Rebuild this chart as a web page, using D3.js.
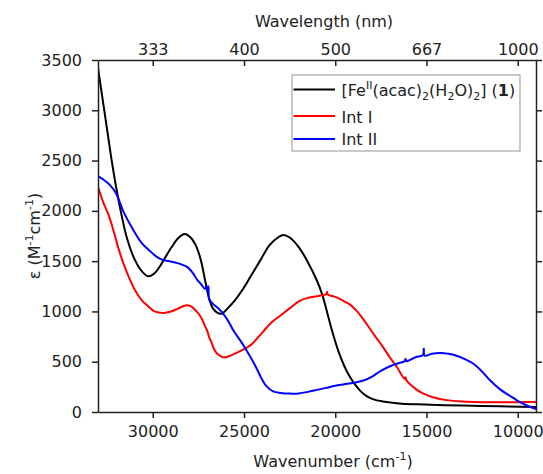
<!DOCTYPE html>
<html>
<head>
<meta charset="utf-8">
<script src="https://cdn.jsdelivr.net/npm/d3@7"></script>
<style>
  body { margin: 0; background: #fff; }
  text { font-family: "DejaVu Sans", sans-serif; font-size: 16px; fill: #222; }
  .axis path, .axis line { stroke: #222; stroke-width: 1.5px; }
  .axis text { font-size: 16px; }
</style>
</head>
<body>
<div id="chart"></div>
<script>
// Black: [Fe(II)(acac)2(H2O)2] (1)
var blackWn = [33000, 32600, 32300, 32000, 31700, 31400, 31000, 30600, 30250, 29900, 29500, 29000, 28600, 28250, 27900, 27600, 27350, 27100, 26900, 26700, 26450, 26200, 25900, 25500, 25100, 24600, 24100, 23600, 23100, 22850, 22500, 22000, 21500, 21000, 20700, 20400, 20100, 19800, 19500, 19200, 18900, 18600, 18300, 17900, 17400, 16500, 15500, 14000, 12000, 10500, 9000]
var blackEps = [3420, 2930, 2560, 2230, 1950, 1720, 1520, 1400, 1350, 1380, 1480, 1630, 1730, 1770, 1730, 1640, 1500, 1280, 1120, 1030, 985, 980, 1030, 1110, 1210, 1360, 1510, 1660, 1740, 1760, 1735, 1640, 1490, 1305, 1160, 960, 760, 590, 455, 350, 270, 205, 160, 125, 105, 85, 76, 68, 60, 55, 50]

// Red: Int I
var redWn = [33000, 32700, 32400, 32100, 31800, 31400, 31000, 30600, 30300, 29900, 29400, 29000, 28600, 28200, 27900, 27600, 27350, 27150, 27000, 26900, 26800, 26600, 26400, 26150, 25900, 25500, 25000, 24600, 24000, 23500, 23000, 22500, 22000, 21500, 21000, 20700, 20500, 20450, 20400, 20000, 19600, 19200, 18800, 18300, 17800, 17400, 17000, 16600, 16200, 16150, 16100, 15600, 15200, 14600, 13900, 13000, 12000, 11000, 10000, 9000]
var redEps = [2240, 2080, 1950, 1770, 1580, 1380, 1220, 1110, 1060, 1000, 985, 1000, 1030, 1060, 1050, 1000, 940, 860, 800, 740, 700, 610, 570, 545, 550, 580, 625, 670, 790, 890, 960, 1030, 1100, 1135, 1150, 1160, 1170, 1195, 1165, 1145, 1110, 1070, 1000, 880, 750, 650, 540, 440, 330, 345, 315, 230, 185, 145, 118, 104, 98, 97, 98, 100]

// Blue: Int II
var blueWn = [33000, 32700, 32340, 32000, 31600, 31066, 30600, 30150, 29800, 29500, 29000, 28700, 28400, 28100, 27800, 27590, 27350, 27140, 27050, 27000, 26950, 26900, 26700, 26400, 26130, 25850, 25580, 25200, 24850, 24500, 24300, 24000, 23760, 23400, 23000, 22500, 22000, 21500, 21000, 20500, 20000, 19500, 19000, 18500, 18000, 17500, 17000, 16450, 16200, 16150, 16100, 15600, 15200, 15150, 15100, 14700, 14260, 13800, 13350, 12900, 12430, 12000, 11520, 11000, 10600, 10200, 9900, 9500, 9000]
var blueEps = [2345, 2310, 2256, 2170, 1990, 1810, 1680, 1600, 1545, 1515, 1495, 1483, 1465, 1440, 1380, 1320, 1270, 1225, 1250, 1200, 1250, 1120, 1075, 1030, 975, 900, 810, 710, 610, 500, 430, 320, 255, 205, 190, 183, 185, 200, 220, 240, 260, 275, 290, 310, 350, 410, 455, 490, 505, 530, 505, 545, 565, 630, 560, 580, 587, 580, 560, 525, 480, 410, 315, 230, 180, 135, 100, 65, 30]

var wnTicks = [30000, 25000, 20000, 15000, 10000]
var epsTicks = [0, 500, 1000, 1500, 2000, 2500, 3000, 3500]

var series = [
  {name: 'black', color: '#000000', wn: blackWn, eps: blackEps},
  {name: 'red', color: '#ff0000', wn: redWn, eps: redEps},
  {name: 'blue', color: '#0000ff', wn: blueWn, eps: blueEps}
]

var margin = {top: 60, right: 7, bottom: 62, left: 98}

var width  = 543 - margin.left - margin.right,
    height = 474 - margin.top - margin.bottom

var svg = d3.select('#chart').append('svg')
  .attr('width', 543)
  .attr('height', 474)
  .append('g')
  .attr('transform', 'translate(' + margin.left + ',' + margin.top + ')')

var xPositionScale = d3.scaleLinear()
  .domain([33000, 9000])
  .range([0, width])

var yPositionScale = d3.scaleLinear()
  .domain([0, 3500])
  .range([height, 0])

var line = d3.line()
  .x(d => xPositionScale(d[0]))
  .y(d => yPositionScale(d[1]))
  .curve(d3.curveCatmullRom.alpha(0.5))

svg.append('clipPath').attr('id', 'plotclip')
  .append('rect').attr('width', width).attr('height', height)

svg.append('g').attr('clip-path', 'url(#plotclip)')
  .selectAll('path')
  .data(series)
  .enter().append('path')
  .attr('d', d => line(d.wn.map((w, i) => [w, d.eps[i]])))
  .attr('fill', 'none')
  .attr('stroke', d => d.color)
  .attr('stroke-width', 2)
  .attr('stroke-linejoin', 'round')

// axes
svg.append('g')
  .attr('class', 'axis x-axis')
  .attr('transform', 'translate(0,' + height + ')')
  .call(d3.axisBottom(xPositionScale).tickValues(wnTicks).tickSize(6).tickSizeOuter(0).tickPadding(8)
    .tickFormat(d3.format('d')))

svg.append('g')
  .attr('class', 'axis top-axis')
  .call(d3.axisTop(xPositionScale).tickValues(wnTicks).tickSize(-6).tickSizeOuter(0).tickPadding(5)
    .tickFormat(d => Math.round(1e7 / d)))

svg.append('g')
  .attr('class', 'axis y-axis')
  .call(d3.axisLeft(yPositionScale).tickValues(epsTicks).tickSize(6).tickSizeOuter(0).tickPadding(10)
    .tickFormat(d3.format('d')))

svg.append('g')
  .attr('class', 'axis right-axis')
  .attr('transform', 'translate(' + width + ',0)')
  .call(d3.axisRight(yPositionScale).tickValues(epsTicks).tickSize(6).tickSizeOuter(0).tickFormat(''))

svg.selectAll('.axis text').attr('fill', '#222')

// axis titles
var xTitle = svg.append('text')
  .attr('x', 235)
  .attr('y', height + 55)
  .attr('text-anchor', 'middle')
xTitle.append('tspan').text('Wavenumber (cm')
xTitle.append('tspan').attr('dy', -7).style('font-size', '11px').text('-1')
xTitle.append('tspan').attr('dy', 7).text(')')

svg.append('text')
  .attr('x', 226)
  .attr('y', -33)
  .attr('text-anchor', 'middle')
  .text('Wavelength (nm)')

var yTitle = svg.append('text')
  .attr('transform', 'translate(' + (40 - margin.left) + ',' + (height / 2) + ') rotate(-90)')
  .attr('text-anchor', 'middle')
yTitle.append('tspan').text('ε (M')
yTitle.append('tspan').attr('dy', -7).style('font-size', '11px').text('-1')
yTitle.append('tspan').attr('dy', 7).text('cm')
yTitle.append('tspan').attr('dy', -7).style('font-size', '11px').text('-1')
yTitle.append('tspan').attr('dy', 7).text(')')

// legend
var legend = svg.append('g')
  .attr('transform', 'translate(' + (292 - margin.left) + ',' + (75 - margin.top) + ')')

legend.append('rect')
  .attr('width', 228)
  .attr('height', 76)
  .attr('fill', '#fff')
  .attr('stroke', '#a6a6a6')
  .attr('stroke-width', 1.2)

var rowY = [14.5, 41, 64]

legend.selectAll('line')
  .data(series)
  .enter().append('line')
  .attr('x1', 1.5)
  .attr('x2', 43)
  .attr('y1', (d, i) => rowY[i])
  .attr('y2', (d, i) => rowY[i])
  .attr('stroke', d => d.color)
  .attr('stroke-width', 2)

var t1 = legend.append('text').attr('x', 49.5).attr('y', rowY[0] + 6)
t1.append('tspan').text('[Fe')
t1.append('tspan').attr('dy', -7).style('font-size', '11px').text('II')
t1.append('tspan').attr('dy', 7).text('(acac)')
t1.append('tspan').attr('dy', 4).style('font-size', '11px').text('2')
t1.append('tspan').attr('dy', -4).text('(H')
t1.append('tspan').attr('dy', 4).style('font-size', '11px').text('2')
t1.append('tspan').attr('dy', -4).text('O)')
t1.append('tspan').attr('dy', 4).style('font-size', '11px').text('2')
t1.append('tspan').attr('dy', -4).text('] (')
t1.append('tspan').style('font-weight', 'bold').text('1')
t1.append('tspan').text(')')

legend.append('text').attr('x', 49.5).attr('y', rowY[1] + 7).text('Int I')
legend.append('text').attr('x', 49.5).attr('y', rowY[2] + 6).text('Int II')
</script>
</body>
</html>
